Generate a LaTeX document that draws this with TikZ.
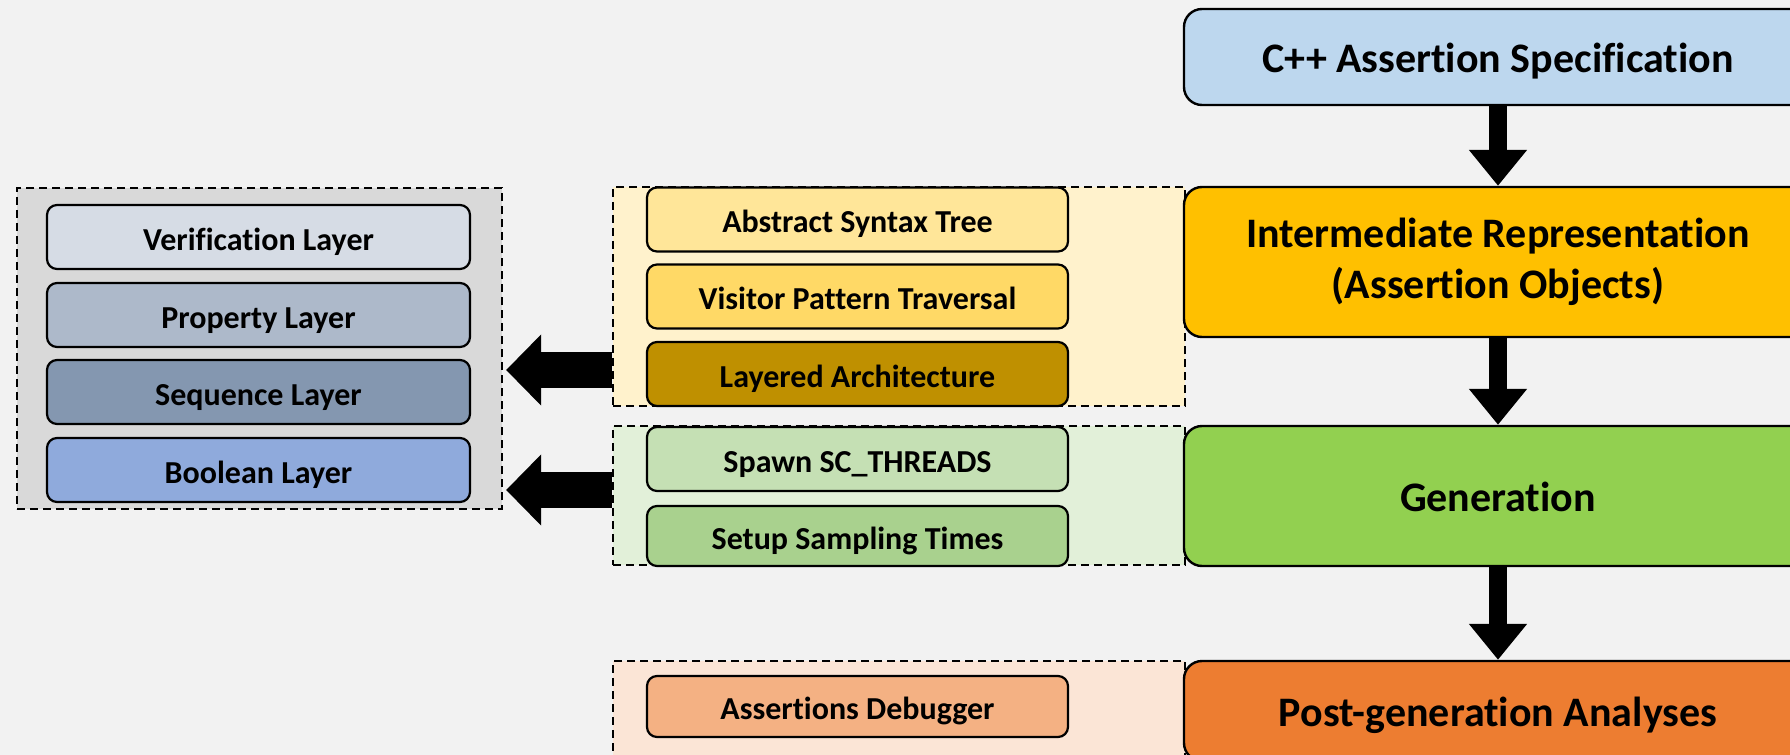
\documentclass[tikz,border=0pt]{standalone}
\usepackage{fontspec}
\setmainfont{Carlito}[Ligatures=NoCommon]
\usetikzlibrary{arrows.meta}

\definecolor{bg}{HTML}{F2F2F2}
\definecolor{specfill}{HTML}{BDD7EE}
\definecolor{irfill}{HTML}{FFC000}
\definecolor{genfill}{HTML}{92D050}
\definecolor{postfill}{HTML}{ED7D31}
\definecolor{grayp}{HTML}{D9D9D9}
\definecolor{verfill}{HTML}{D6DCE5}
\definecolor{propfill}{HTML}{ADB9CA}
\definecolor{seqfill}{HTML}{8497B0}
\definecolor{boolfill}{HTML}{8FAADC}
\definecolor{yellowp}{HTML}{FFF2CC}
\definecolor{astfill}{HTML}{FFE699}
\definecolor{visfill}{HTML}{FFD966}
\definecolor{layfill}{HTML}{BF9000}
\definecolor{greenp}{HTML}{E2F0D9}
\definecolor{spawnfill}{HTML}{C5E0B4}
\definecolor{setupfill}{HTML}{A9D18E}
\definecolor{orangep}{HTML}{FBE5D6}
\definecolor{dbgfill}{HTML}{F4B183}

\begin{document}
\begin{tikzpicture}[x=0.5pt,y=-0.5pt,
  bigbox/.style={draw=black, line width=1.2pt, rounded corners=9pt,
    minimum width=314pt, inner sep=0pt, align=center,
    font=\fontsize{21}{25.5}\selectfont\bfseries},
  oneline/.style={text height=15pt, text depth=0pt},
  smallbox/.style={draw=black, line width=1.1pt, rounded corners=5pt,
    minimum width=210.5pt, minimum height=32pt, inner sep=0pt,
    text height=13pt, text depth=0pt,
    font=\fontsize{16}{19}\selectfont\bfseries},
  layerbox/.style={smallbox, minimum width=211.5pt},
  panel/.style={draw=black, line width=1.1pt, dash pattern=on 4pt off 2.5pt,
    inner sep=0pt, minimum width=286pt},
  flow/.style={line width=9pt, -{Triangle[width=28pt,length=18pt]}},
  side/.style={line width=18pt, -{Triangle[width=34.5pt,length=17.5pt]}, shorten >=1.5pt}
]
\useasboundingbox (0,0) rectangle (1790,755);
\fill[bg] (0,0) rectangle (1790,755);

% grouping panels
\node[panel, fill=grayp, minimum width=242.5pt, minimum height=160.5pt] (layers) at (259.5,348.5) {};
\node[panel, fill=yellowp, minimum height=109.5pt] (irpanel) at (899,296.5) {};
\node[panel, fill=greenp, minimum height=69.5pt] (genpanel) at (899,495.5) {};
\node[panel, fill=orangep, minimum height=69.5pt] (postpanel) at (899,730.5) {};

% main flow
\node[bigbox, oneline, fill=specfill, minimum height=48pt] (spec) at (1498,57) {C++ Assertion Specification};
\node[bigbox, fill=irfill, minimum height=75pt] (ir) at (1498,262) {Intermediate Representation\\(Assertion Objects)};
\node[bigbox, oneline, fill=genfill, minimum height=70pt] (gen) at (1498,496) {Generation};
\node[bigbox, oneline, fill=postfill, minimum height=50pt] (post) at (1498,711) {Post-generation Analyses};

% assertion layers
\node[layerbox, fill=verfill] (ver) at (258.5,237) {Verification Layer};
\node[layerbox, fill=propfill] (prop) at (258.5,315) {Property Layer};
\node[layerbox, fill=seqfill] (seq) at (258.5,392) {Sequence Layer};
\node[layerbox, fill=boolfill] (bool) at (258.5,470) {Boolean Layer};

% intermediate representation details
\node[smallbox, fill=astfill] (ast) at (857.5,219.5) {Abstract Syntax Tree};
\node[smallbox, fill=visfill] (vis) at (857.5,296.5) {Visitor Pattern Traversal};
\node[smallbox, fill=layfill] (lay) at (857.5,374) {Layered Architecture};

% generation details
\node[smallbox, fill=spawnfill] (spawn) at (857.5,459) {Spawn SC\_THREADS};
\node[smallbox, fill=setupfill, minimum height=30pt] (setup) at (857.5,536) {Setup Sampling Times};

% post-generation details
\node[smallbox, fill=dbgfill, minimum height=30.5pt] (dbg) at (857.5,706.5) {Assertions Debugger};

% arrows
\draw[flow] (spec.south) -- (ir.north);
\draw[flow] (ir.south) -- (gen.north);
\draw[flow] (gen.south) -- (post.north);

\coordinate (lvA) at (0,370);
\coordinate (lvB) at (0,490);
\draw[side] (irpanel.west |- lvA) -- (layers.east |- lvA);
\draw[side] (genpanel.west |- lvB) -- (layers.east |- lvB);
\end{tikzpicture}
\end{document}
